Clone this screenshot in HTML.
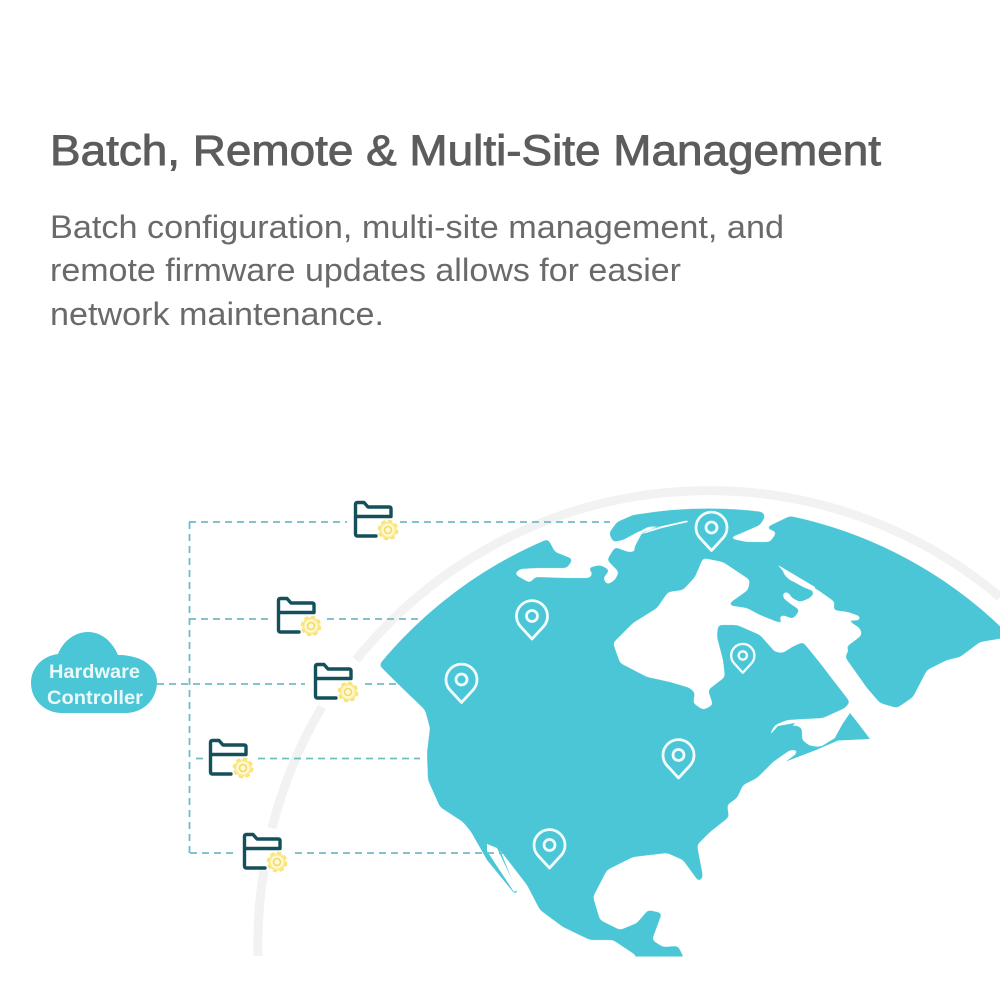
<!DOCTYPE html>
<html lang="en">
<head>
<meta charset="utf-8">
<title>Batch, Remote &amp; Multi-Site Management</title>
<style>
html,body{margin:0;padding:0;background:#fff;width:1000px;height:1000px;overflow:hidden}
svg{display:block}
text{font-family:"Liberation Sans",sans-serif}
</style>
</head>
<body>
<svg xmlns="http://www.w3.org/2000/svg" width="1000" height="1000" viewBox="0 0 1000 1000">
<defs>
<filter id="smooth" x="-5%" y="-5%" width="110%" height="110%" color-interpolation-filters="sRGB">
<feGaussianBlur in="SourceAlpha" stdDeviation="2"/>
<feComponentTransfer result="a"><feFuncA type="linear" slope="8" intercept="-3.5"/></feComponentTransfer>
<feFlood flood-color="#4ac6d6"/>
<feComposite in2="a" operator="in"/>
</filter>
<clipPath id="land"><rect x="0" y="400" width="1000" height="556.5"/></clipPath>
<g id="folder">
<path d="M22,35 H3.5 Q1.5,35 1.5,33 V3.5 Q1.5,1.5 3.5,1.5 H10 L14,6 H35 Q37,6 37,8 V15.5 H1.5" fill="#fff" stroke="#14505c" stroke-width="3.4" stroke-linejoin="round" stroke-linecap="round"/>
<circle cx="34" cy="29" r="8.8" fill="#fbe98a"/>
<circle cx="34" cy="29" r="9.2" fill="none" stroke="#f9e47a" stroke-width="2.4" stroke-dasharray="4.2 3"/>
<circle cx="34" cy="29" r="6.6" fill="#fff8d2"/>
<circle cx="34" cy="29" r="3.5" fill="#fff8d2" stroke="#f0da6a" stroke-width="1.6"/>
</g>
<g id="pin">
<path d="M0,23 L-11.5,10.5 A15.5,15.5 0 1 1 11.5,10.5 Z"/><circle r="5.5"/>
</g>
</defs>
<rect width="1000" height="1000" fill="#fff"/>
<text x="50" y="165" font-size="43" fill="#5c5c5c" stroke="#5c5c5c" stroke-width=".9" textLength="831" lengthAdjust="spacingAndGlyphs">Batch, Remote &amp; Multi-Site Management</text>
<g font-size="32" fill="#6a6a6a">
<text x="50" y="238" textLength="734" lengthAdjust="spacingAndGlyphs">Batch configuration, multi-site management, and</text>
<text x="50" y="281" textLength="631" lengthAdjust="spacingAndGlyphs">remote firmware updates allows for easier</text>
<text x="50" y="325" textLength="334" lengthAdjust="spacingAndGlyphs">network maintenance.</text>
</g>

<g fill="none" stroke="#f2f2f2" stroke-width="9">
<path d="M258,956 A452,452 0 0 1 264,870"/>
<path d="M272,828 A452,452 0 0 1 322,707"/>
<path d="M356,660 A452,452 0 0 1 1000,597"/>
</g>

<g clip-path="url(#land)">
<path filter="url(#smooth)" fill="#4ac6d6" d="M379,665 A434,434 0 0 1 548,539
L555,552 L573,559 L567,568 L537,568 L520,569 L514,574 L530,583 L535,577 L567,578 L580,578 L590,578 L593,573 L587,568 L600,565 L610,570 L603,578 L607,585 L615,580 L619,572 L607,560 L615,547 L628,552 L635,552 L647,552 L633,550 L642,533 L660,527 L687,521 L670,523 L647,527 L623,540 L613,542 L609,533 L617,522 L633,515 L640,514
A434,434 0 0 1 763,512
L765,517 L760,525 L737,535 L727,538 L747,542 L770,542 L777,532 L765,528 L790,516
A434,434 0 0 1 1004,630
L1004,638 L980,642 L960,657 L947,660 L927,670 L913,697 L897,708 L880,703 L867,688 L845,657 L850,648 L843,649 L853,642 L862,635 L860,628 L843,618 L858,621 L862,617 L848,612 L833,610 L835,602 L815,588 L778,566 L787,578 L803,587 L815,592 L810,598 L800,602 L792,598 L788,592 L783,592 L783,598 L792,605 L800,610 L793,619 L783,615 L778,617 L783,622 L792,627 L780,623 L760,615 L747,608 L727,605 L748,590 L750,580 L723,562 L703,558 L695,577 L683,590 L668,592 L657,608 L633,623 L613,643 L620,663 L647,677 L670,682 L690,688 L695,693 L693,703 L703,710 L713,705 L708,690 L725,677 L723,660 L717,637 L718,625 L737,625 L760,635 L775,652 L783,653 L792,647 L803,642 L820,663 L833,680 L850,702 L845,708 L823,718 L787,720 L775,725 L768,737 L795,725 L802,728 L802,740 L810,746 L820,746 L835,738 L842,725 L850,713 L870,739 L837,740 L815,750 L787,761 L800,750 L790,750 L773,762 L757,778 L743,785 L737,798 L727,805 L729,817 L710,832 L697,845 L703,877 L699,882 L683,860 L667,853 L633,857 L607,870 L593,897 L600,920 L620,930 L637,923 L648,910 L662,913 L652,940 L663,947 L678,946 L683,956 L686,975 L625,975 L637,956 L613,940 L590,940 L563,927 L540,910 L527,885 L500,850 L488,843 L487,846 L515,892 L513,892 L488,860 L472,833 L463,822 L440,807 L428,780 L427,753 L430,728 L425,710 L397,683 Z"/>
</g>
<!-- thin land strips that the smoothing would erase -->
<g fill="#4ac6d6">
<path d="M786,761.5 L800,751 L812,747.5 L822,746 L835,738 L842,725 L850,713 L870,739 L838,740.5 L816,750 Z"/>
<path d="M470,830 L480,834 L500,850 L517,892 L514,893 L487,860 Z"/>
<path d="M768,737 L778,726 L795,723 L790,730 Z"/>
</g>
<g fill="#fff">
<path d="M640,534 L660,526.5 L687,520.5 L688,522 L662,528 L646,533 Z"/>
<path d="M778,565 L815,587 L815,592 L790,580 Z"/>
<path d="M487,844 L497,848 L517,890 L514,892 L487,851 Z"/>
</g>

<g fill="none" stroke="#72bcc4" stroke-width="1.8" stroke-dasharray="7 5">
<path d="M189.5,522 V853"/>
<path d="M189,522 H347"/>
<path d="M400,522 H610"/>
<path d="M189,619 H270"/>
<path d="M327,619 H418"/>
<path d="M157,684 H305"/>
<path d="M365,684 H396"/>
<path d="M196,758.5 H205"/>
<path d="M258,758.5 H420"/>
<path d="M190,853 H235"/>
<path d="M295,853 H503"/>
</g>

<path fill="#4ac6d6" d="M62,713 H125 C145,713 157,698 157,682 C157,667 143,655 118,655 C112,641 101,632 88,632 C75,632 63,641 58,654 C42,656 31,668 31,683 C31,700 45,713 62,713 Z"/>
<g font-size="19.5" font-weight="bold" fill="#eafafa">
<text x="49" y="678" textLength="91" lengthAdjust="spacingAndGlyphs">Hardware</text>
<text x="47" y="704" textLength="96" lengthAdjust="spacingAndGlyphs">Controller</text>
</g>

<use href="#folder" x="354" y="501"/>
<use href="#folder" x="277" y="597"/>
<use href="#folder" x="314" y="663"/>
<use href="#folder" x="209" y="739"/>
<use href="#folder" x="243" y="833"/>

<g fill="none" stroke="#f2fbfc" stroke-width="2.8" stroke-linejoin="round">
<use href="#pin" x="532" y="616"/>
<use href="#pin" x="461.5" y="679.5"/>
<use href="#pin" x="711.5" y="527.5"/>
<use href="#pin" x="678.5" y="755"/>
<use href="#pin" x="549.5" y="845"/>
<g transform="translate(742.8,655.5) scale(.75)" stroke-width="3.2"><use href="#pin"/></g>
</g>
</svg>
</body>
</html>
